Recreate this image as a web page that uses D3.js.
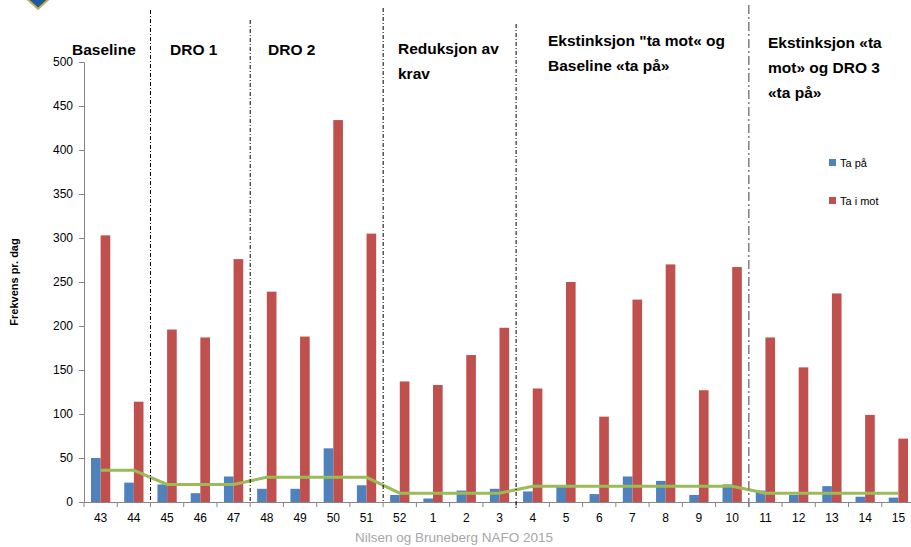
<!DOCTYPE html>
<html>
<head>
<meta charset="utf-8">
<script src="https://cdnjs.cloudflare.com/ajax/libs/d3/7.8.5/d3.min.js"></script>
<style>
  body { margin: 0; background: #fff; }
  svg text { font-family: "Liberation Sans", Arial, sans-serif; }
</style>
</head>
<body>
<svg width="911" height="547"></svg>
<script>
// Weeks on the x axis
var weeks = ["43","44","45","46","47","48","49","50","51","52","1","2","3","4","5","6","7","8","9","10","11","12","13","14","15"];

// Series values
var taPaa = [50,22,20,10,29,15,15,61,19,8,4,13,15,12,18,9,29,24,8,20,13,8,18,6,5];
var taIMot = [303,114,196,187,276,239,188,434,305,137,133,167,198,129,250,97,230,270,127,267,187,153,237,99,72];
// Phase mean line for "Ta på"
var trend = [36,36,20,20,20,28,28,28,28,10,10,10,10,18,18,18,18,18,18,18,10,10,10,10,10];

// Phases: first week index of each phase, and heading lines
var phaseStart = [0, 2, 5, 9, 13, 20];
var phaseLabels = [
  ["Baseline"],
  ["DRO 1"],
  ["DRO 2"],
  ["Reduksjon av", "krav"],
  ["Ekstinksjon \"ta mot« og", "Baseline «ta på»"],
  ["Ekstinksjon «ta", "mot» og DRO 3", "«ta på»"]
];
var yTicks = [0,50,100,150,200,250,300,350,400,450,500];

var svg = d3.select("svg");
var mLeft = 84, mRight = 915, mTop = 62, mBottom = 502;

var x = d3.scaleBand().domain(weeks).range([mLeft, mRight]).padding(0);
var x1 = d3.scaleBand().domain(["pa","mot"])
  .range([x.bandwidth()*0.21, x.bandwidth()*0.79]);
var y = d3.scaleLinear().domain([0, 500]).range([mBottom, mTop]);

// small logo corner
svg.append("path")
  .attr("d", "M27,-1 L38,9 L49,-1 Z")
  .attr("fill", "#1f5b9c").attr("stroke", "#c8b25a").attr("stroke-width", 2);

// bars
var g = svg.append("g");
g.selectAll("rect.pa").data(weeks).enter().append("rect")
  .attr("class", "pa")
  .attr("x", function(d){ return x(d) + x1("pa"); })
  .attr("y", function(d,i){ return y(taPaa[i]); })
  .attr("width", x1.bandwidth())
  .attr("height", function(d,i){ return y(0) - y(taPaa[i]); })
  .attr("fill", "#4f81bd");
g.selectAll("rect.mot").data(weeks).enter().append("rect")
  .attr("class", "mot")
  .attr("x", function(d){ return x(d) + x1("mot"); })
  .attr("y", function(d,i){ return y(taIMot[i]); })
  .attr("width", x1.bandwidth())
  .attr("height", function(d,i){ return y(0) - y(taIMot[i]); })
  .attr("fill", "#c0504d");

// trend line
var line = d3.line()
  .x(function(d,i){ return x(weeks[i]) + x.bandwidth()/2; })
  .y(function(d){ return y(d); });
svg.append("path").datum(trend)
  .attr("d", line)
  .attr("fill", "none")
  .attr("stroke", "#9bbb59")
  .attr("stroke-width", 3);

// y axis
var yAxis = svg.append("g")
  .attr("transform", "translate(" + mLeft + ",0)")
  .call(d3.axisLeft(y).tickValues(yTicks).tickSize(5).tickPadding(6));
yAxis.selectAll("text").attr("font-size", 12).attr("fill", "#000")
  .style("font-family", "Liberation Sans, Arial, sans-serif");
yAxis.selectAll("line,path").attr("stroke", "#868686");

// x axis
var xAxis = svg.append("g")
  .attr("transform", "translate(0," + mBottom + ")")
  .call(d3.axisBottom(x).tickSize(0).tickPadding(11));
xAxis.selectAll("text").attr("font-size", 12).attr("fill", "#000")
  .style("font-family", "Liberation Sans, Arial, sans-serif");
xAxis.select("path").attr("stroke", "#868686");
xAxis.selectAll("line.sep").data(d3.range(weeks.length + 1)).enter().append("line")
  .attr("class", "sep")
  .attr("x1", function(i){ return mLeft + i * x.step(); })
  .attr("x2", function(i){ return mLeft + i * x.step(); })
  .attr("y1", 0).attr("y2", 5)
  .attr("stroke", "#868686");

// phase dividers
var divTop = [10, 20, 8, 24, 5];
var divBottom = [502, 502, 502, 510, 510];
phaseStart.slice(1).forEach(function(s, k) {
  var xp = mLeft + s * x.step();
  var last = k === phaseStart.length - 2;
  svg.append("line")
    .attr("x1", xp).attr("x2", xp)
    .attr("y1", divTop[k]).attr("y2", divBottom[k])
    .attr("stroke", last ? "#7f7f7f" : "#000")
    .attr("stroke-width", last ? 1.5 : 1)
    .attr("stroke-dasharray", last ? "9,3,2,3" : "4,2,1,2");
});

// phase headings
var labelPos = [[72,55],[170,55],[268,55],[398,54],[548,46],[768,48]];
phaseLabels.forEach(function(lines, k) {
  var t = svg.append("text")
    .attr("x", labelPos[k][0]).attr("y", labelPos[k][1])
    .attr("font-size", 15.5).attr("font-weight", "bold").attr("fill", "#000");
  lines.forEach(function(l, j) {
    t.append("tspan").attr("x", labelPos[k][0]).attr("dy", j === 0 ? 0 : 25).text(l);
  });
});

// legend
var legend = [["Ta på", "#4f81bd"], ["Ta i mot", "#c0504d"]];
legend.forEach(function(d, i) {
  svg.append("rect").attr("x", 829).attr("y", 159 + i*38).attr("width", 7).attr("height", 7).attr("fill", d[1]);
  svg.append("text").attr("x", 840).attr("y", 167 + i*38)
    .attr("font-size", 11).attr("fill", "#000").text(d[0]);
});

// y axis title
svg.append("text")
  .attr("transform", "translate(18,282) rotate(-90)")
  .attr("text-anchor", "middle")
  .attr("font-size", 11).attr("font-weight", "bold")
  .text("Frekvens pr. dag");

// source
svg.append("text")
  .attr("x", 454).attr("y", 542)
  .attr("text-anchor", "middle")
  .attr("font-size", 13.5).attr("fill", "#a6a6a6")
  .text("Nilsen og Bruneberg NAFO 2015");
</script>
</body>
</html>
